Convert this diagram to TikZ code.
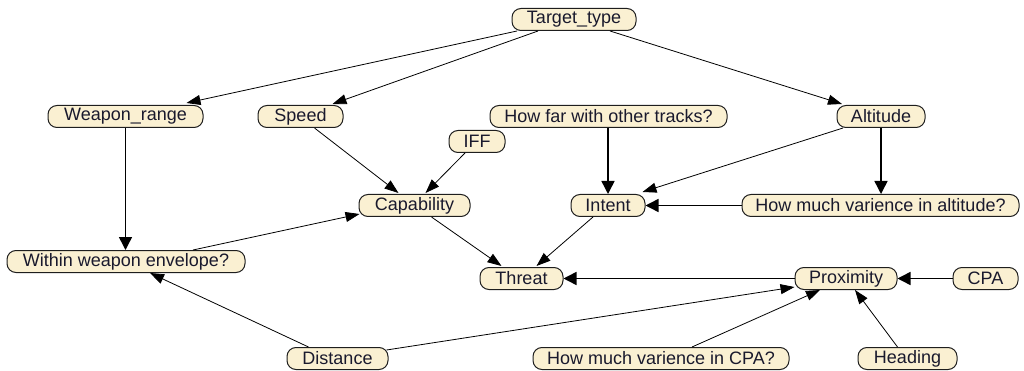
\documentclass[tikz,border=0pt]{standalone}
\usepackage{fontspec}
\setmainfont{Liberation Sans}
\usetikzlibrary{arrows.meta}
\definecolor{nodefill}{RGB}{250,240,210}
\definecolor{nodeline}{RGB}{30,30,30}
\definecolor{nodetext}{RGB}{25,25,45}
\tikzset{
  var/.style={draw=nodeline, line width=1pt, fill=nodefill, rounded corners=9pt,
    minimum height=22pt, inner sep=0pt, text=nodetext, font=\fontsize{18}{20}\selectfont},
  link/.style={line width=0.8pt, -{Triangle[length=14pt,width=10pt]}},
  strong/.style={line width=1.5pt, -{Triangle[length=13pt,width=13pt]}},
}
\begin{document}
\begin{tikzpicture}[x=1pt,y=-1pt]
\useasboundingbox (0,0) rectangle (1024,371);

% variables
\node[var, minimum width=124pt] (tt)     at (574,19.5)  {Target\_type};
\node[var, minimum width=155pt] (wr)     at (125.5,116.5) {Weapon\_range};
\node[var, minimum width=85pt]  (speed)  at (300.5,116.5) {Speed};
\node[var, minimum width=237pt] (howfar) at (608.5,116.5) {How far with other tracks?};
\node[var, minimum width=88pt]  (alt)    at (881,116.5) {Altitude};
\node[var, minimum width=56pt]  (iff)    at (477,141.5) {IFF};
\node[var, minimum width=111pt] (cap)    at (414.5,205.5) {Capability};
\node[var, minimum width=74pt]  (intent) at (608,205.5) {Intent};
\node[var, minimum width=277pt] (hmvalt) at (880.5,205.5) {How much varience in altitude?};
\node[var, minimum width=238pt] (within) at (126,261.5) {Within weapon envelope?};
\node[var, minimum width=83pt]  (threat) at (521.5,278.5) {Threat};
\node[var, minimum width=102pt] (prox)   at (846,278.5) {Proximity};
\node[var, minimum width=65pt]  (cpa)    at (985.5,278.5) {CPA};
\node[var, minimum width=101pt] (dist)   at (337.5,358.5) {Distance};
\node[var, minimum width=256pt] (hmvcpa) at (661,358.5) {How much varience in CPA?};
\node[var, minimum width=99pt]  (head)   at (907.5,358.5) {Heading};

% dependencies
\draw[link] ([xshift=-57pt]tt.south) -- ([xshift=61pt,yshift=2pt]wr.north);
\draw[link] ([xshift=-36pt]tt.south) -- ([xshift=32pt,yshift=1pt]speed.north);
\draw[link] ([xshift=36pt]tt.south) -- ([xshift=-39pt,yshift=1pt]alt.north);
\draw[strong] (wr.south) -- (wr.south |- within.north);
\draw[link] ([xshift=14pt]speed.south) -- ([xshift=-16pt,yshift=1pt]cap.north);
\draw[link] ([xshift=-12pt]iff.south) -- ([xshift=11pt,yshift=1pt]cap.north);
\draw[link] ([xshift=67pt]within.north) -- ([xshift=1pt,yshift=3pt]cap.south west);
\draw[link] ([xshift=17pt]cap.south) -- ([xshift=-20pt,yshift=1pt]threat.north);
\draw[link] ([xshift=-15pt]intent.south) -- ([xshift=15pt,yshift=1pt]threat.north);
\draw[strong] (howfar.south -| intent.north) -- (intent.north);
\draw[link] ([xshift=-38pt]alt.south) -- ([xshift=-3pt,yshift=2pt]intent.north east);
\draw[strong] (alt.south) -- (alt.south |- hmvalt.north);
\draw[strong] (hmvalt.west) -- (intent.east);
\draw[strong] (prox.west) -- (threat.east);
\draw[strong] (cpa.west) -- (prox.east);
\draw[link] ([xshift=-2pt,yshift=-3pt]dist.north east) -- ([yshift=3pt]prox.south west);
\draw[link] ([xshift=31pt]hmvcpa.north) -- ([xshift=-26pt]prox.south);
\draw[link] ([xshift=-10pt]head.north) -- ([xshift=9pt]prox.south);
\draw[link] ([xshift=-29pt]dist.north) -- ([xshift=24pt]within.south);
\end{tikzpicture}
\end{document}
